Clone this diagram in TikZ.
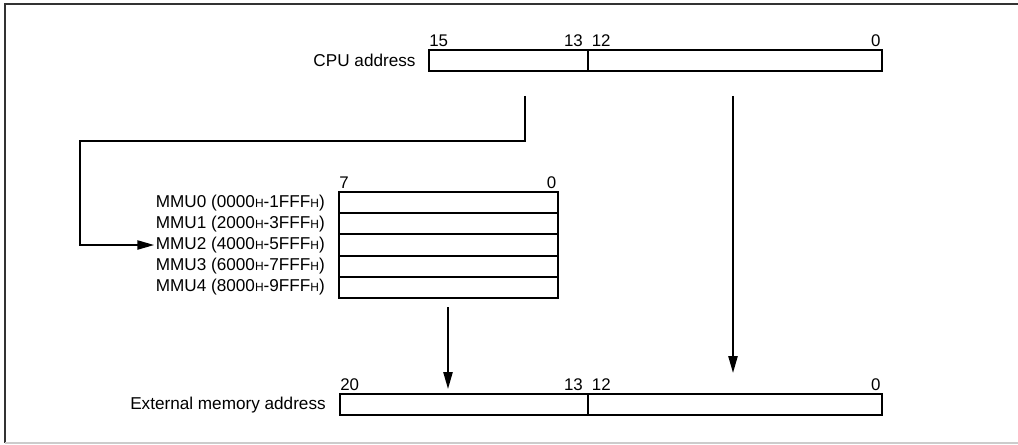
\documentclass[tikz,border=0pt]{standalone}
\usepackage{fontspec}
\setmainfont{Liberation Sans}
\usetikzlibrary{arrows.meta, positioning}

\newcommand{\hx}{{\fontsize{8.5}{10}\selectfont H}}

\begin{document}
\begin{tikzpicture}[
    x=0.025cm, y=-0.025cm,
    field/.style={draw, line width=1.4pt, minimum height=0.53cm, inner sep=0pt, outer sep=0pt, anchor=north west},
    bitno/.style={font=\fontsize{12}{12}\selectfont, inner sep=0pt},
    regname/.style={font=\fontsize{12.2}{14}\selectfont, inner sep=0pt},
    arrow/.style={-{Triangle[length=12pt, width=6.5pt]}, line width=1.3pt}
]
\useasboundingbox (0,0) rectangle (1018,445);

% Frame
\draw[line width=0.9pt, black!80] (1020,4) -- (5,4) -- (5,443);
\draw[line width=0.8pt, black!20] (5,443) -- (1020,443);

% CPU address
\node[field, minimum width=3.975cm] (cpuhi) at (429,50) {};
\node[field, minimum width=7.35cm, right=0pt of cpuhi] (cpulo) {};
\draw[line width=2pt] (cpuhi.north east) -- (cpuhi.south east);
\node[regname, left=0.33cm of cpuhi] (cpuname) {CPU address};
\node[bitno, above right=2.5pt and 0pt of cpuhi.north west] (cpu15) {15};
\node[bitno, above left=2.5pt and 3.5pt of cpuhi.north east] (cpu13) {13};
\node[bitno, above right=2.5pt and 2.5pt of cpulo.north west] (cpu12) {12};
\node[bitno, above left=2.5pt and 1pt of cpulo.north east] (cpu0) {0};

% MMU registers
\node[field, minimum width=5.475cm] (mmu0) at (339,192) {};
\node[field, minimum width=5.475cm, below=0pt of mmu0] (mmu1) {};
\node[field, minimum width=5.475cm, below=0pt of mmu1] (mmu2) {};
\node[field, minimum width=5.475cm, below=0pt of mmu2] (mmu3) {};
\node[field, minimum width=5.475cm, below=0pt of mmu3] (mmu4) {};
\node[regname, left=0.35cm of mmu0] (mmu0name) {MMU0 (0000\hx-1FFF\hx)};
\node[regname, left=0.35cm of mmu1] (mmu1name) {MMU1 (2000\hx-3FFF\hx)};
\node[regname, left=0.35cm of mmu2] (mmu2name) {MMU2 (4000\hx-5FFF\hx)};
\node[regname, left=0.35cm of mmu3] (mmu3name) {MMU3 (6000\hx-7FFF\hx)};
\node[regname, left=0.35cm of mmu4] (mmu4name) {MMU4 (8000\hx-9FFF\hx)};
\node[bitno, above right=2.5pt and 0pt of mmu0.north west] (mmu7) {7};
\node[bitno, above left=2.5pt and 1pt of mmu0.north east] (mmubit0) {0};

% External memory address
\node[field, minimum width=6.2cm] (exthi) at (340,394) {};
\node[field, minimum width=7.35cm, right=0pt of exthi] (extlo) {};
\draw[line width=2pt] (exthi.north east) -- (exthi.south east);
\node[regname, left=0.35cm of exthi] (extname) {External memory address};
\node[bitno, above right=2.5pt and 0pt of exthi.north west] (ext20) {20};
\node[bitno, above left=2.5pt and 3.5pt of exthi.north east] (ext13) {13};
\node[bitno, above right=2.5pt and 2.5pt of extlo.north west] (ext12) {12};
\node[bitno, above left=2.5pt and 1pt of extlo.north east] (ext0) {0};

% Connectors
\coordinate (selstart) at (525,96);
\coordinate (selturn) at (80,141);
\coordinate (offstart) at (733,96);
\coordinate (offend) at (733,373);
\coordinate (mmuout) at (448,307);
\coordinate (mmuend) at (448,389);
\draw[arrow] (selstart) |- (selturn) |- ([xshift=-1pt]mmu2name.west);
\draw[arrow] (offstart) -- (offend);
\draw[arrow] (mmuout) -- (mmuend);

\end{tikzpicture}
\end{document}
